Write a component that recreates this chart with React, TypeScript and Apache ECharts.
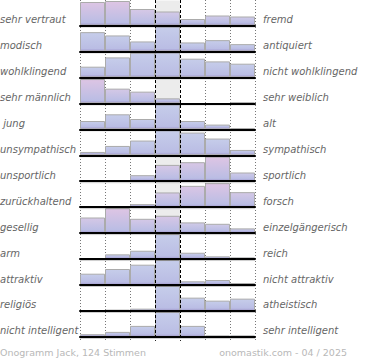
import React, { useEffect, useRef } from "react";
import * as echarts from "echarts";

const leftLabels = [
  "sehr vertraut", "modisch", "wohlklingend", "sehr männlich", " jung", "unsympathisch",
  "unsportlich", "zurückhaltend", "gesellig", "arm", "attraktiv", "religiös", "nicht intelligent",
];
const rightLabels = [
  "fremd", "antiquiert", "nicht wohlklingend", "sehr weiblich", "alt", "sympathisch",
  "sportlich", "forsch", "einzelgängerisch", "reich", "nicht attraktiv", "atheistisch", "sehr intelligent",
];
const columns = ["1", "2", "3", "4", "5", "6", "7"];
// bar heights per row (row scale 0..25, centre values of 25 are clipped)
const r01 = [23.5, 24.5, 16.5, 14, 6.5, 10, 9];
const r02 = [19.3, 16, 10, 25, 9, 11.3, 7.3];
const r03 = [10.7, 20, 24.7, 25, 18.7, 16, 13.7];
const r04 = [24.3, 14.7, 11.7, 5, 0, 0, 1];
const r05 = [8.3, 15, 10.3, 25, 8.3, 4.7, 1.3];
const r06 = [3.3, 9.3, 14.7, 25, 22.7, 16.7, 5.3];
const r07 = [1.2, 0, 6, 16.3, 19, 24.7, 8.7];
const r08 = [0, 0, 3, 14.7, 21.3, 24, 15];
const r09 = [15.6, 25, 14.3, 17.3, 10.7, 9.3, 4.7];
const r10 = [1, 4.7, 8.3, 25, 6.3, 2.7, 1.7];
const r11 = [11.3, 16, 20.3, 25, 3.7, 5, 2];
const r12 = [0, 1.3, 2.3, 25, 13.3, 10.3, 12.3];
const r13 = [2.7, 5, 11, 25, 11, 1.5, 1.5];
const rows = [r01, r02, r03, r04, r05, r06, r07, r08, r09, r10, r11, r12, r13];
const ROW_MAX = 25;
const footerLeft = "Onogramm Jack, 124 Stimmen";
const footerRight = "onomastik.com - 04 / 2025";

// layout
const LEFT = 80;
const COL_W = 25;
const ROW_H = 25;
const ROW_STEP = 25.95;
const TOP0 = 0.5;

const BLUE_TOP = [198, 205, 234];
const PINK_TOP = [222, 197, 228];
const BOTTOM = [186, 189, 228];
const STRIP = "#a39bcf";

function mix(a: number[], b: number[], t: number) {
  const c = a.map((v, i) => Math.round(v + (b[i] - v) * t));
  return `rgb(${c[0]},${c[1]},${c[2]})`;
}

function barColor(v: number, pinkRow: boolean) {
  const top = pinkRow ? mix(BLUE_TOP, PINK_TOP, Math.min(1, v / ROW_MAX)) : mix(BLUE_TOP, BLUE_TOP, 0);
  const s = v > 0 ? Math.max(0, 1 - 2.5 / v) : 0;
  return new echarts.graphic.LinearGradient(0, 0, 0, 1, [
    { offset: 0, color: top },
    { offset: s, color: mix(BOTTOM, BOTTOM, 0) },
    { offset: 1, color: STRIP },
  ]);
}

export default function App() {
  const ref = useRef<HTMLDivElement>(null);
  useEffect(() => {
    document.body.style.margin = "0";
    if (!ref.current) return;
    const chart = echarts.init(ref.current, null, { renderer: "svg" });
    const grid: any[] = [];
    const xAxis: any[] = [];
    const yAxis: any[] = [];
    const series: any[] = [];
    const graphic: any[] = [];
    const font = "'DejaVu Sans', Verdana, sans-serif";

    rows.forEach((vals, r) => {
      const top = TOP0 + r * ROW_STEP;
      grid.push({ left: LEFT, top, width: COL_W * 7, height: ROW_H });
      xAxis.push({
        gridIndex: r,
        type: "category",
        data: columns,
        boundaryGap: true,
        position: "bottom",
        z: 10,
        axisLine: { show: true, onZero: false, lineStyle: { color: "#000", width: 2 } },
        axisTick: { show: false },
        axisLabel: { show: false },
        splitLine: { show: false },
      });
      yAxis.push({ gridIndex: r, type: "value", min: 0, max: ROW_MAX, show: false });
      const pinkRow = vals[3] < ROW_MAX;
      series.push({
        type: "bar",
        xAxisIndex: r,
        yAxisIndex: r,
        z: 1,
        silent: true,
        barWidth: "100%",
        barGap: "-100%",
        itemStyle: { color: "#ececec" },
        data: vals.map((_, i) => (i === 3 ? ROW_MAX : "-")),
      });
      series.push({
        type: "bar",
        xAxisIndex: r,
        yAxisIndex: r,
        z: 2,
        barWidth: "100%",
        barGap: "-100%",
        data: vals.map((v) => ({
          value: v,
          itemStyle: { color: barColor(v, pinkRow), borderColor: "#ababab", borderWidth: v > 0 ? 1 : 0 },
        })),
      });
      const base = top + ROW_H;
      graphic.push({
        type: "text",
        x: 0,
        y: base - 6,
        z: 20,
        style: {
          text: leftLabels[r],
          fill: "#666",
          font: `italic 10px ${font}`,
          textVerticalAlign: "middle",
          textAlign: "left",
        },
      });
      graphic.push({
        type: "text",
        x: 263,
        y: base - 6,
        z: 20,
        style: {
          text: rightLabels[r],
          fill: "#666",
          font: `italic 10px ${font}`,
          textVerticalAlign: "middle",
          textAlign: "left",
        },
      });
      graphic.push({
        type: "line",
        z: 5,
        silent: true,
        shape: { x1: LEFT, y1: base + 1.5, x2: LEFT + COL_W * 7, y2: base + 1.5 },
        style: { stroke: "rgba(0,0,0,0.2)", lineWidth: 1 },
      });
    });

    const yEnd = TOP0 + rows.length * ROW_STEP + 3;
    for (let k = 0; k <= 7; k++) {
      const x = LEFT + k * COL_W + 0.5;
      const centre = k === 3 || k === 4;
      graphic.push({
        type: "line",
        z: centre ? 50 : 0,
        silent: true,
        shape: { x1: x, y1: 0, x2: x, y2: yEnd },
        style: centre
          ? { stroke: "#000", lineWidth: 1, lineDash: [3, 2] }
          : { stroke: "#777", lineWidth: 1, lineDash: [1, 2] },
      });
    }
    graphic.push({
      type: "text",
      x: 0,
      y: 352.5,
      style: { text: footerLeft, fill: "#b8b8b8", font: `9.5px ${font}`, textVerticalAlign: "middle" },
    });
    graphic.push({
      type: "text",
      x: 347,
      y: 352.5,
      style: {
        text: footerRight,
        fill: "#b8b8b8",
        font: `9.5px ${font}`,
        textVerticalAlign: "middle",
        textAlign: "right",
      },
    });

    chart.setOption({
      animation: false,
      backgroundColor: "#fff",
      grid,
      xAxis,
      yAxis,
      series,
      graphic,
    });
    return () => chart.dispose();
  }, []);
  return <div ref={ref} style={{ width: 370, height: 360 }} />;
}
